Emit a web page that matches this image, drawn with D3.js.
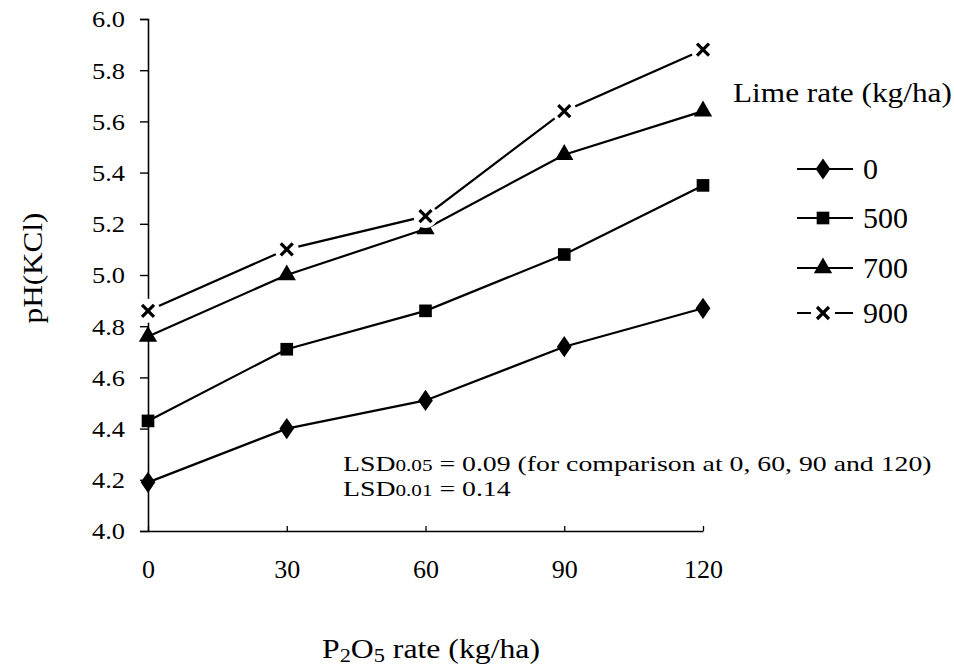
<!DOCTYPE html>
<html><head><meta charset="utf-8">
<script src="https://cdn.jsdelivr.net/npm/d3@7"></script>
<style>body{margin:0;background:#fff}svg{display:block}text{font-family:"Liberation Serif","Times New Roman",serif;fill:#000}</style>
</head><body>
<script>
const p2o5 = [0, 30, 60, 90, 120];
const lime0   = [4.19, 4.40, 4.51, 4.72, 4.87];
const lime500 = [4.43, 4.71, 4.86, 5.08, 5.35];
const lime700 = [4.76, 5.00, 5.18, 5.47, 5.64];
const lime900 = [4.86, 5.10, 5.23, 5.64, 5.88];
const seriesNames = ["0", "500", "700", "900"];
const yTicks = [4.0, 4.2, 4.4, 4.6, 4.8, 5.0, 5.2, 5.4, 5.6, 5.8, 6.0];

const W = 954, H = 670;
const svg = d3.select("body").append("svg").attr("width", W).attr("height", H);
const x = d3.scaleLinear().domain([0, 120]).range([148, 703]);
const y = d3.scaleLinear().domain([4.0, 6.0]).range([531, 19]);

// stretch a text element horizontally (in its own frame) to a target width
function fit(t, target) {
  const w = t.node().getBBox().width;
  const s = target / w;
  t.attr("transform", `scale(${s},1)`);
  return s;
}

const series = [
  {name: seriesNames[0], values: lime0, sym: d3.symbolDiamond, size: 130},
  {name: seriesNames[1], values: lime500, sym: d3.symbolSquare, size: 160},
  {name: seriesNames[2], values: lime700, sym: d3.symbolTriangle, size: 145},
  {name: seriesNames[3], values: lime900, sym: "x", size: 0}
];

// axes
const yAxis = d3.axisLeft(y).tickValues(yTicks).tickFormat(d3.format(".1f")).tickSize(8).tickPadding(15);
const gy = svg.append("g").attr("transform", "translate(148,0)").call(yAxis);
gy.select(".domain").attr("stroke-width", 1.6);
gy.selectAll(".tick line").attr("stroke-width", 1.4);
gy.selectAll("text").style("font-size", "24px").style("font-family", '"Liberation Serif",serif')
  .attr("x", 0).attr("dy", "0.33em")
  .each(function() {
    const t = d3.select(this);
    const w = this.getBBox().width;
    t.attr("text-anchor", "end").attr("transform", `translate(-23,0) scale(${33 / w},1)`);
  });

const xAxis = d3.axisBottom(x).tickValues(p2o5).tickSizeInner(-5).tickSizeOuter(0);
const gx = svg.append("g").attr("transform", "translate(0,531)").call(xAxis);
gx.select(".domain").attr("stroke-width", 1.6);
gx.selectAll(".tick line").attr("stroke-width", 1.3);
gx.selectAll("text").style("font-size", "26px").style("font-family", '"Liberation Serif",serif')
  .attr("y", 47).attr("dy", 0);

const line = d3.line().x((d, i) => x(p2o5[i])).y(d => y(d));

function drawMarker(g, s, cx, cy) {
  if (s.sym === "x") {
    const r = 6;
    const path = `M${cx - r},${cy - r}L${cx + r},${cy + r}M${cx + r},${cy - r}L${cx - r},${cy + r}`;
    g.append("circle").attr("cx", cx).attr("cy", cy).attr("r", 12).attr("fill", "#fff");
    g.append("path").attr("d", path).attr("stroke", "#000").attr("stroke-width", 3.2).attr("fill", "none");
  } else {
    g.append("path").attr("d", d3.symbol().type(s.sym).size(s.size)())
      .attr("transform", `translate(${cx},${cy})` + (s.sym === d3.symbolDiamond ? " scale(1.2,1)" : ""))
      .attr("fill", "#000");
  }
}

const plot = svg.append("g");
series.forEach(s => {
  const g = plot.append("g");
  g.append("path").datum(s.values).attr("d", line).attr("fill", "none").attr("stroke", "#000").attr("stroke-width", 2.2);
  s.values.forEach((v, i) => drawMarker(g, s, x(p2o5[i]), y(v)));
});

// legend
const lt = svg.append("g").attr("transform", "translate(733,102)");
fit(lt.append("text").style("font-size", "27px").text("Lime rate (kg/ha)"), 219);
const legY = [169, 218, 268, 313];
series.forEach((s, i) => {
  const g = svg.append("g");
  const ly = legY[i];
  g.append("line").attr("x1", 797).attr("x2", 853).attr("y1", ly).attr("y2", ly).attr("stroke", "#000").attr("stroke-width", 2.2);
  drawMarker(g, s, 823, ly);
  g.append("text").attr("x", 863).attr("y", ly + 10).style("font-size", "30px").text(s.name);
});

// annotations
const a1 = svg.append("g").attr("transform", "translate(343,471)");
const t1 = a1.append("text").style("font-size", "21px");
t1.append("tspan").text("LSD");
t1.append("tspan").style("font-size", "16px").text("0.05");
t1.append("tspan").text(" = 0.09 (for comparison at 0, 60, 90 and 120)");
const sc = fit(t1, 589);
const a2 = svg.append("g").attr("transform", "translate(343,496)");
const t2 = a2.append("text").style("font-size", "21px").attr("transform", `scale(${sc},1)`);
t2.append("tspan").text("LSD");
t2.append("tspan").style("font-size", "16px").text("0.01");
t2.append("tspan").text(" = 0.14");

// axis titles
const yt = svg.append("g").attr("transform", "translate(42,268) rotate(-90)");
const ytt = yt.append("text").attr("text-anchor", "middle").style("font-size", "27px").text("pH(KCl)");
fit(ytt, 111);

const xg = svg.append("g").attr("transform", "translate(431,658)");
const xt = xg.append("text").attr("text-anchor", "middle").style("font-size", "27px");
xt.append("tspan").text("P");
xt.append("tspan").attr("dy", 4).style("font-size", "19px").text("2");
xt.append("tspan").attr("dy", -4).text("O");
xt.append("tspan").attr("dy", 4).style("font-size", "19px").text("5");
xt.append("tspan").attr("dy", -4).text(" rate (kg/ha)");
fit(xt, 218);
</script>
</body></html>
